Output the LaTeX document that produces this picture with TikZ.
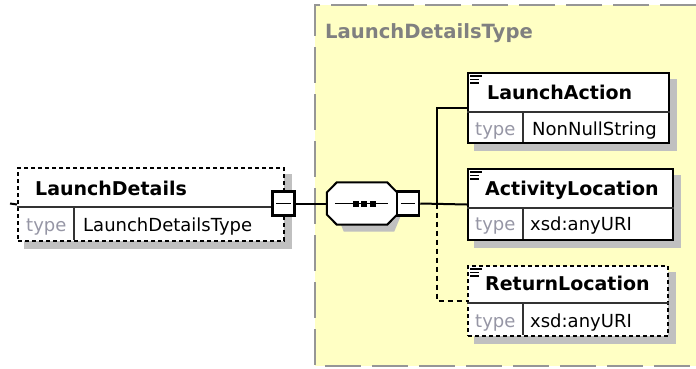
\documentclass[tikz,border=0pt]{standalone}
\usepackage{fontspec}
\setmainfont{DejaVu Sans}
\usetikzlibrary{calc}
\definecolor{ybg}{RGB}{255,255,196}
\definecolor{yborder}{RGB}{150,150,150}
\definecolor{hdrtext}{RGB}{128,128,128}
\definecolor{typetext}{RGB}{150,150,165}
\definecolor{shadowc}{RGB}{192,192,192}
\tikzset{
  conn/.style={line width=2pt, black},
  optconn/.style={line width=2pt, black, dash pattern=on 5pt off 4pt},
  elbox/.style={draw=black, line width=2pt, fill=white, rectangle, inner sep=0pt, anchor=north west},
  optbox/.style={elbox, dash pattern=on 4pt off 3pt},
  minusbox/.style={draw=black, line width=2.5pt, fill=white, rectangle, inner sep=0pt, minimum width=22pt, minimum height=24pt},
  inner/.style={line width=1.5pt, black!80},
  namet/.style={anchor=base west, inner sep=0pt, font=\fontsize{19}{22}\selectfont\bfseries, text=black},
  hdrt/.style={anchor=base west, inner sep=0pt, font=\fontsize{19.6}{22}\selectfont\bfseries, text=hdrtext},
  typet/.style={anchor=base west, inner sep=0pt, font=\fontsize{18}{21}\selectfont, text=typetext},
  valt/.style={anchor=base west, inner sep=0pt, font=\fontsize{18}{21}\selectfont, text=black},
  icon/.style={line width=1.4pt, black}
}
\begin{document}
\begin{tikzpicture}[x=1pt,y=-1pt]
\useasboundingbox (0,0) rectangle (696,368);
% complex type region
\fill[ybg] (315,5) rectangle (696,366);
\draw[yborder, line width=2pt, dash pattern=on 36pt off 11pt] (696,5) -- (315,5) -- (315,366) -- (696,366);
\node[hdrt] (hdr) at (325,38) {LaunchDetailsType};

% LaunchDetails element
\node[optbox, minimum width=266pt, minimum height=73pt, draw=none, fill=none] (ld) at (17,167) {};
\fill[shadowc] ($(ld.north west)+(7,7)$) rectangle ($(ld.south east)+(7,7)$);
\node[optbox, minimum width=266pt, minimum height=73pt] (ld) at (17,167) {};
\draw[inner] (ld.west |- 0,207) -- (ld.east |- 0,207);
\draw[inner] (74,207) -- (74,240);
\node[namet] (ldn) at (35,195) {LaunchDetails};
\node[typet] (ldt) at (26,231) {type};
\node[valt] (ldv) at (83,231) {LaunchDetailsType};
\coordinate (lin) at (10,203.5);
\draw[conn] (lin) -- (ld.west);
\node[minusbox] (ldm) at (283.5,203.5) {};
\draw[inner, black] ($(ldm.west)+(5,0)$) -- ($(ldm.east)+(-5,0)$);

% sequence compositor
\node[minimum width=70pt, minimum height=42pt, inner sep=0pt] (seq) at (362,203.5) {};
\fill[shadowc] ($(seq.north west)+(17,7)$) -- ($(seq.north east)+(-3,7)$) -- ($(seq.east)+(7,-4)$) -- ($(seq.east)+(7,4)$) -- ($(seq.south east)+(-3,7)$) -- ($(seq.south west)+(17,7)$) -- ($(seq.west)+(7,4)$) -- ($(seq.west)+(7,-4)$) -- cycle;
\draw[line width=2pt, fill=white] ($(seq.north west)+(10,0)$) -- ($(seq.north east)+(-10,0)$) -- ($(seq.east)+(0,-11)$) -- ($(seq.east)+(0,11)$) -- ($(seq.south east)+(-10,0)$) -- ($(seq.south west)+(10,0)$) -- ($(seq.west)+(0,11)$) -- ($(seq.west)+(0,-11)$) -- cycle;
\draw[line width=1.5pt] ($(seq.west)+(8,0)$) -- ($(seq.east)+(-9,0)$);
\foreach \dx in {-6.5,2,10.5} {\fill ($(seq.center)+(\dx-3,-3)$) rectangle ($(seq.center)+(\dx+3,3)$);}
\node[minusbox] (seqm) at (408,203.5) {};
\draw[inner, black] ($(seqm.west)+(5,0)$) -- ($(seqm.east)+(-5,0)$);
\draw[conn] (ldm.east) -- (seq.west);

% children
\node[elbox, minimum width=201pt, minimum height=70pt, draw=none, fill=none] (la) at (467,72) {};
\node[elbox, minimum width=205pt, minimum height=71pt, draw=none, fill=none] (al) at (467,168) {};
\node[elbox, minimum width=200pt, minimum height=70pt, draw=none, fill=none] (rl) at (467,265) {};
\foreach \n in {la,al,rl} {\fill[shadowc] ($(\n.north west)+(7,7)$) rectangle ($(\n.south east)+(7,7)$);}

\coordinate (br) at (437,203.5);
\draw[conn] (seqm.east) -- (al.west);
\draw[conn] (br) |- (la.west);
\draw[optconn] (br) |- (rl.west);

\node[elbox, minimum width=201pt, minimum height=70pt] (la) at (467,72) {};
\draw[inner] (la.west |- 0,112) -- (la.east |- 0,112);
\draw[inner] (523,112) -- (523,142);
\node[namet] (lan) at (487,99) {LaunchAction};
\node[typet] (lat) at (475,135) {type};
\node[valt] (lav) at (532,135) {NonNullString};

\node[elbox, minimum width=205pt, minimum height=71pt] (al) at (467,168) {};
\draw[inner] (al.west |- 0,208) -- (al.east |- 0,208);
\draw[inner] (523,208) -- (523,239);
\node[namet] (aln) at (485,195) {ActivityLocation};
\node[typet] (alt) at (475,230) {type};
\node[valt] (alv) at (530,230) {xsd:anyURI};

\node[optbox, minimum width=200pt, minimum height=70pt] (rl) at (467,265) {};
\draw[inner] (rl.west |- 0,303) -- (rl.east |- 0,303);
\draw[inner] (523,303) -- (523,335);
\node[namet] (rln) at (485,290) {ReturnLocation};
\node[typet] (rlt) at (475,327) {type};
\node[valt] (rlv) at (530,327) {xsd:anyURI};

% simple content icons
\foreach \n in {la,al,rl} {
  \draw[icon] ($(\n.north west)+(3,4)$) -- ($(\n.north west)+(15,4)$);
  \draw[icon] ($(\n.north west)+(3,7.5)$) -- ($(\n.north west)+(12,7.5)$);
  \draw[icon] ($(\n.north west)+(3,11)$) -- ($(\n.north west)+(12,11)$);
}
\end{tikzpicture}
\end{document}
